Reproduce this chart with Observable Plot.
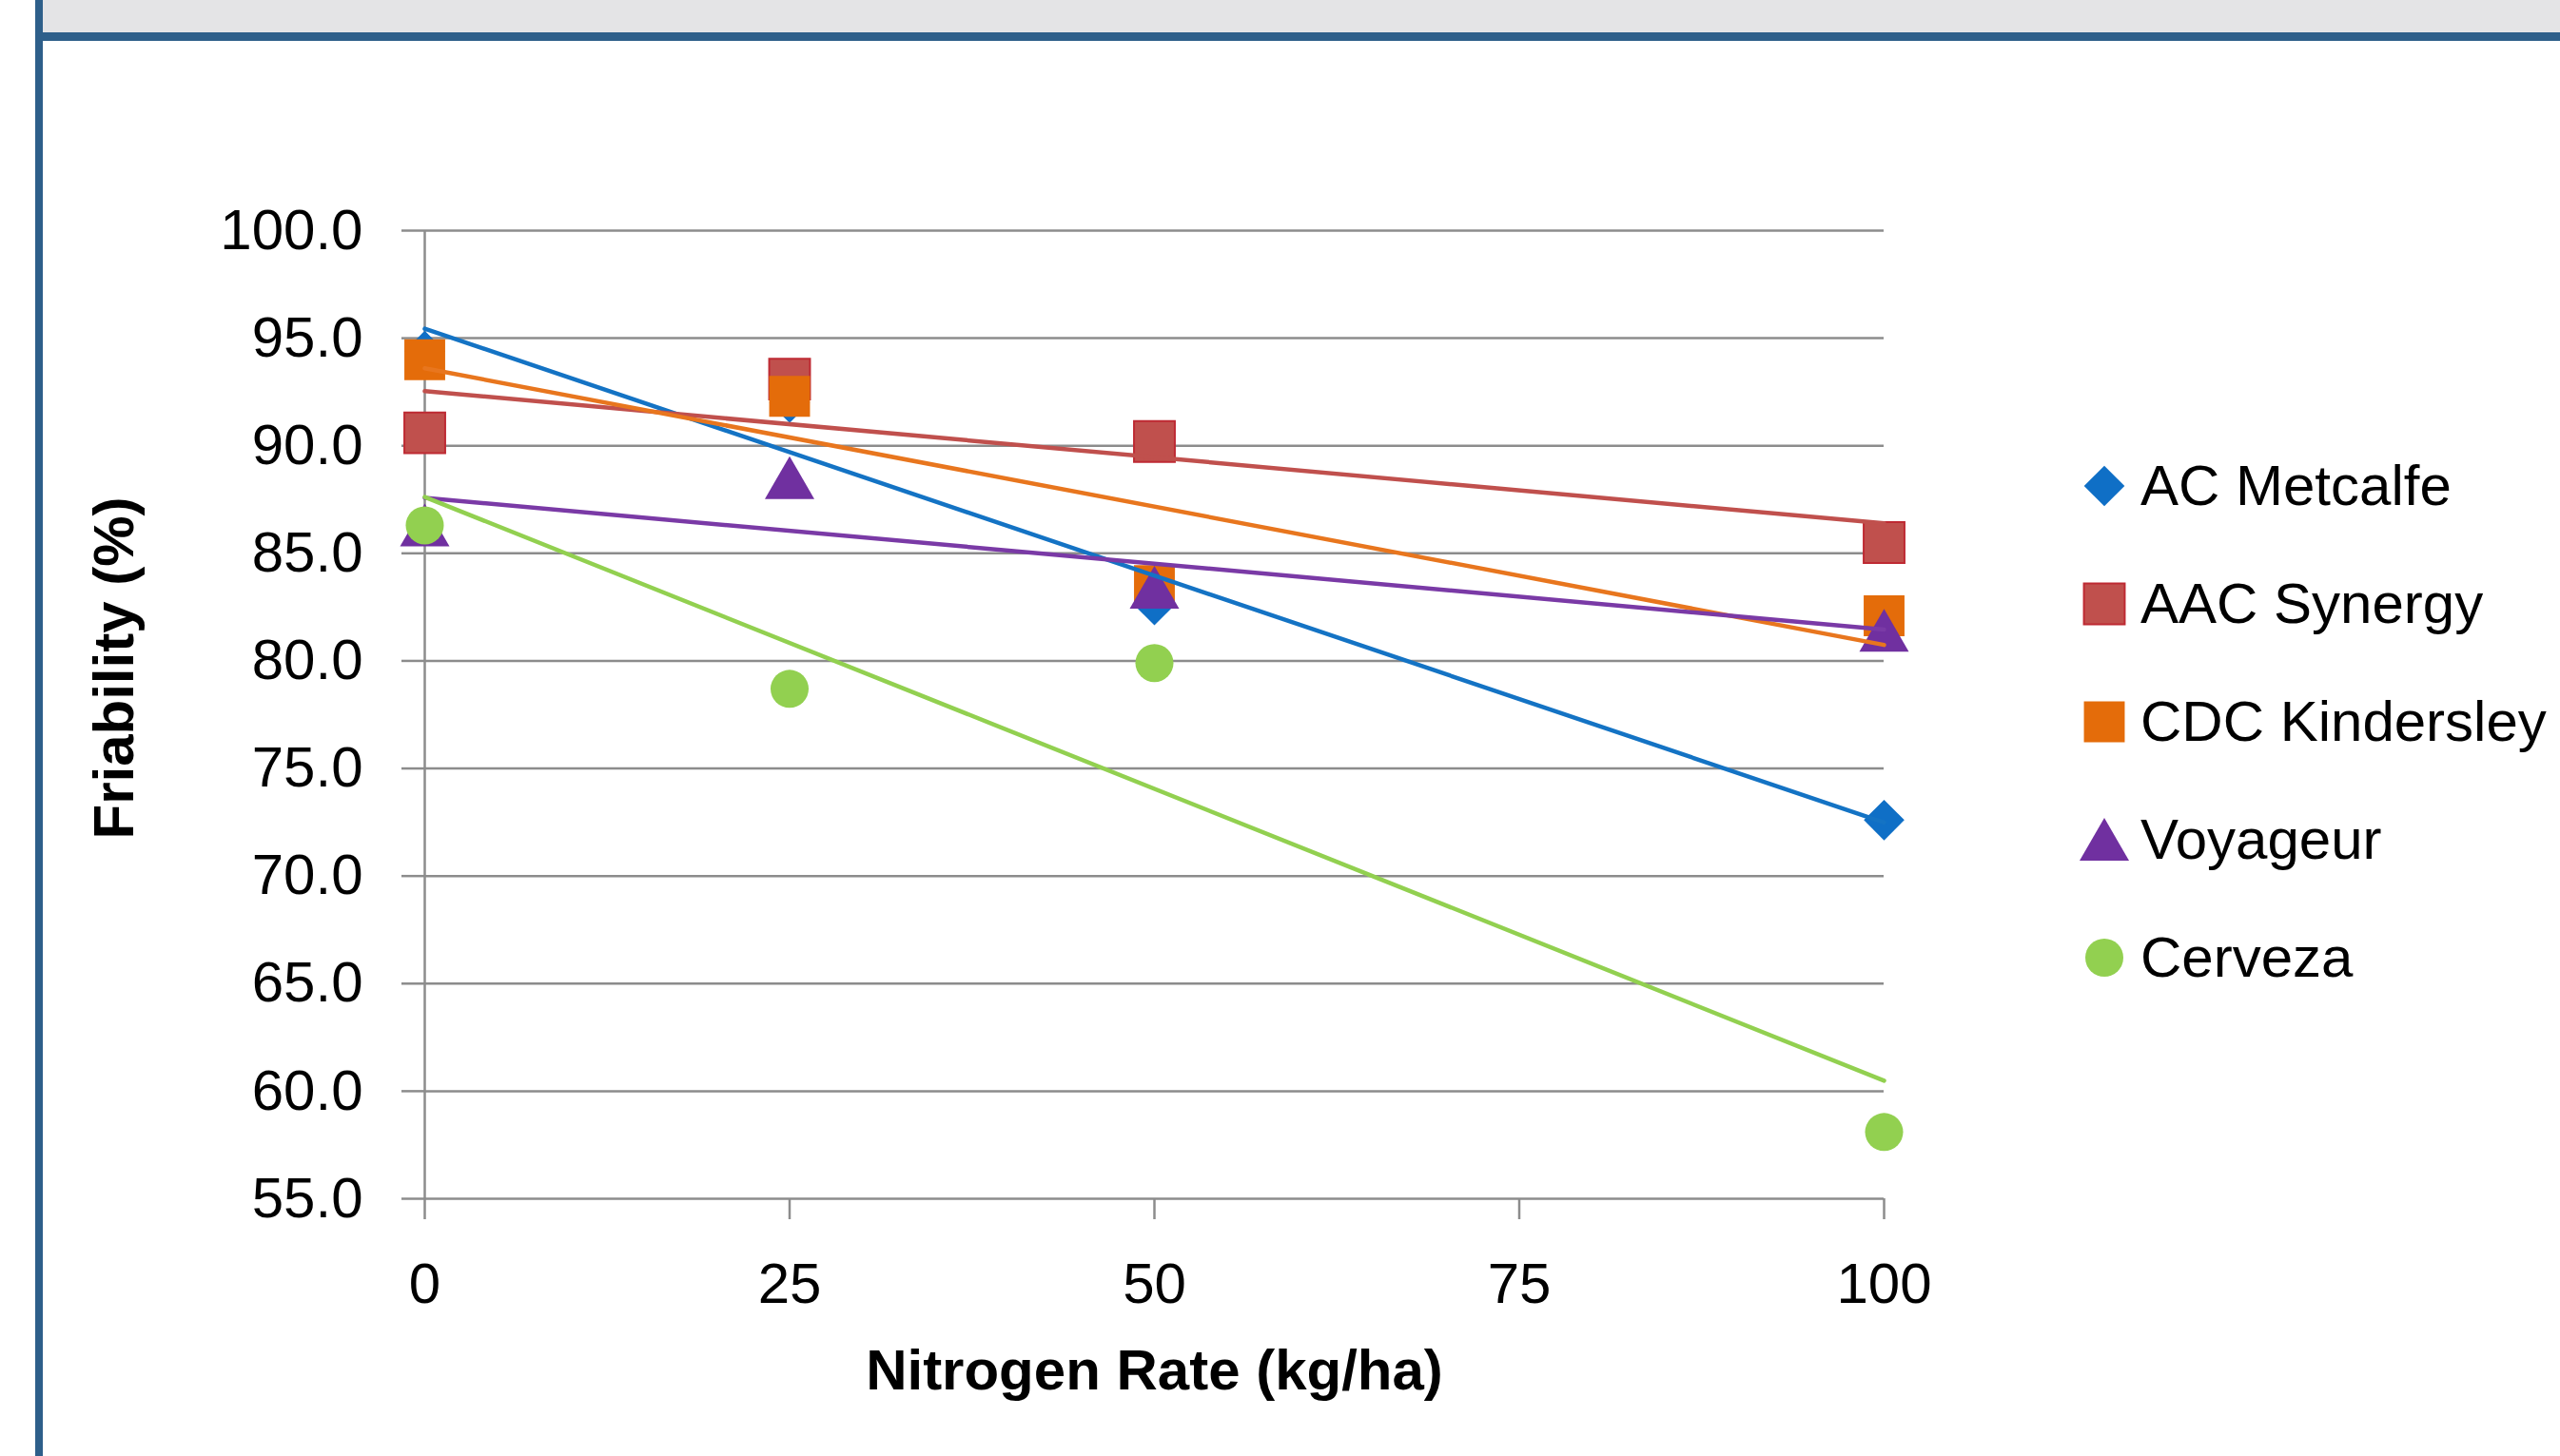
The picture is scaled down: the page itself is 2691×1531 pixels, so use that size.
<!DOCTYPE html>
<html>
<head>
<meta charset="utf-8">
<script src="https://cdn.jsdelivr.net/npm/d3@7"></script>
<script src="https://cdn.jsdelivr.net/npm/@observablehq/plot@0.6"></script>
<style>
  html, body { margin: 0; padding: 0; background: #ffffff; width: 2691px; height: 1531px; overflow: hidden; font-family: "Liberation Sans", Arial, sans-serif; }
  #topband { position: absolute; left: 45px; top: 0; width: 2646px; height: 34px; background: #E4E4E6; }
  #blueband { position: absolute; left: 37px; top: 34px; width: 2654px; height: 9px; background: #2E5F8A; }
  #leftborder { position: absolute; left: 37px; top: 0; width: 8px; height: 1531px; background: #2E5F8A; }
  #chart { position: absolute; left: 45px; top: 43px; }
  .lg-row { position: absolute; left: 2180px; height: 64px; display: flex; align-items: center; white-space: nowrap; }
  .lg-row svg { width: 64px; height: 64px; flex: none; }
  .lg-row span { font-size: 60px; color: #000; margin-left: 6px; line-height: 64px; }
</style>
</head>
<body>
<div id="topband"></div>
<div id="blueband"></div>
<div id="leftborder"></div>
<div id="chart"></div>
<div id="legend"></div>
<script>
// ---- data ----
const nitrogenRates = [0, 25, 50, 100];
const acMetcalfe    = [94.4, 92.0, 82.6, 72.6];
const aacSynergy    = [90.6, 93.1, 90.2, 85.5];
const cdcKindersley = [94.0, 92.3, 83.5, 82.1];
const voyageur      = [86.3, 88.5, 83.4, 81.4];
const cerveza       = [86.3, 78.7, 79.9, 58.1];

const seriesNames = ["AC Metcalfe", "AAC Synergy", "CDC Kindersley", "Voyageur", "Cerveza"];
const yTicks = [55, 60, 65, 70, 75, 80, 85, 90, 95, 100];
const xTicks = [0, 25, 50, 75, 100];
const xTitle = "Nitrogen Rate (kg/ha)";
const yTitle = "Friability (%)";

// ---- styles ----
const styles = {
  "AC Metcalfe":    {fill: "#0F6FC6", line: "#1473C4", symbol: "diamond2", r: 19.2, stroke: "none", dy: 0},
  "AAC Synergy":    {fill: "#C0504D", line: "#C0504D", symbol: "square",   r: 24.2, stroke: "#BE2A33", dy: 0},
  "CDC Kindersley": {fill: "#E46C0A", line: "#E8761E", symbol: "square",   r: 24.2, stroke: "none", dy: 0},
  "Voyageur":       {fill: "#7030A0", line: "#7A3AA6", symbol: "triangle", r: 19.3, stroke: "none", dy: 7},
  "Cerveza":        {fill: "#92D050", line: "#92D050", symbol: "circle",   r: 20,   stroke: "none", dy: 0}
};
const valuesBy = {
  "AC Metcalfe": acMetcalfe, "AAC Synergy": aacSynergy, "CDC Kindersley": cdcKindersley,
  "Voyageur": voyageur, "Cerveza": cerveza
};
const tables = seriesNames.map(name => nitrogenRates.map((x, i) => ({series: name, x, y: valuesBy[name][i]})));

const gridColor = "#8C8C8C";

const marks = [
  Plot.gridY(yTicks, {stroke: gridColor, strokeOpacity: 1, strokeWidth: 2.5}),
  Plot.ruleX([0], {stroke: gridColor, strokeWidth: 2.5}),
  Plot.axisY(yTicks, {
    tickSize: 24, tickPadding: 41, tickFormat: d => d.toFixed(1),
    stroke: gridColor, strokeWidth: 2.5, fill: "#000", fontSize: 60, label: null
  }),
  Plot.axisX(xTicks, {
    tickSize: 22, tickPadding: 45, tickFormat: d => String(d),
    stroke: gridColor, strokeWidth: 2.5, fill: "#000", fontSize: 60, label: null
  }),
];
tables.forEach((t, k) => {
  const s = styles[seriesNames[k]];
  marks.push(Plot.dot(t, {x: "x", y: "y", symbol: () => s.symbol, r: s.r, fill: s.fill, stroke: s.stroke, strokeWidth: 2, dy: s.dy}));
});
tables.forEach((t, k) => {
  const s = styles[seriesNames[k]];
  marks.push(Plot.linearRegressionY(t, {x: "x", y: "y", stroke: s.line, strokeWidth: 4.5, ci: 0}));
});
marks.push(Plot.text([xTitle], {frameAnchor: "bottom", dy: 200, fontSize: 60, fontWeight: "bold", fill: "#000", textAnchor: "middle"}));
marks.push(Plot.text([yTitle], {frameAnchor: "left", rotate: -90, dx: -326, dy: -49, fontSize: 60, fontWeight: "bold", fill: "#000", textAnchor: "middle"}));

const chart = Plot.plot({
  width: 2646,
  height: 1488,
  marginLeft: 401,
  marginRight: 711,
  marginTop: 199,
  marginBottom: 271,
  style: {fontFamily: "'Liberation Sans', Arial, sans-serif", color: "#000", background: "transparent", overflow: "visible"},
  x: {domain: [0, 100], axis: null},
  y: {domain: [55, 100], axis: null},
  symbol: {type: "identity"},
  marks
});
document.getElementById("chart").appendChild(chart);

// ---- legend ----
const legend = document.getElementById("legend");
const symMap = {diamond2: d3.symbolDiamond2, square: d3.symbolSquare, triangle: d3.symbolTriangle, circle: d3.symbolCircle};
seriesNames.forEach((name, i) => {
  const s = styles[name];
  const row = document.createElement("div");
  row.className = "lg-row";
  row.style.top = (511 + i * 124 - 32) + "px";
  const path = d3.symbol(symMap[s.symbol], s.r * s.r * Math.PI)();
  row.innerHTML = `<svg viewBox="-32 -32 64 64"><path transform="translate(0,${s.dy})" d="${path}" fill="${s.fill}" stroke="${s.stroke}" stroke-width="2"></path></svg><span>${name}</span>`;
  legend.appendChild(row);
});
</script>
</body>
</html>
